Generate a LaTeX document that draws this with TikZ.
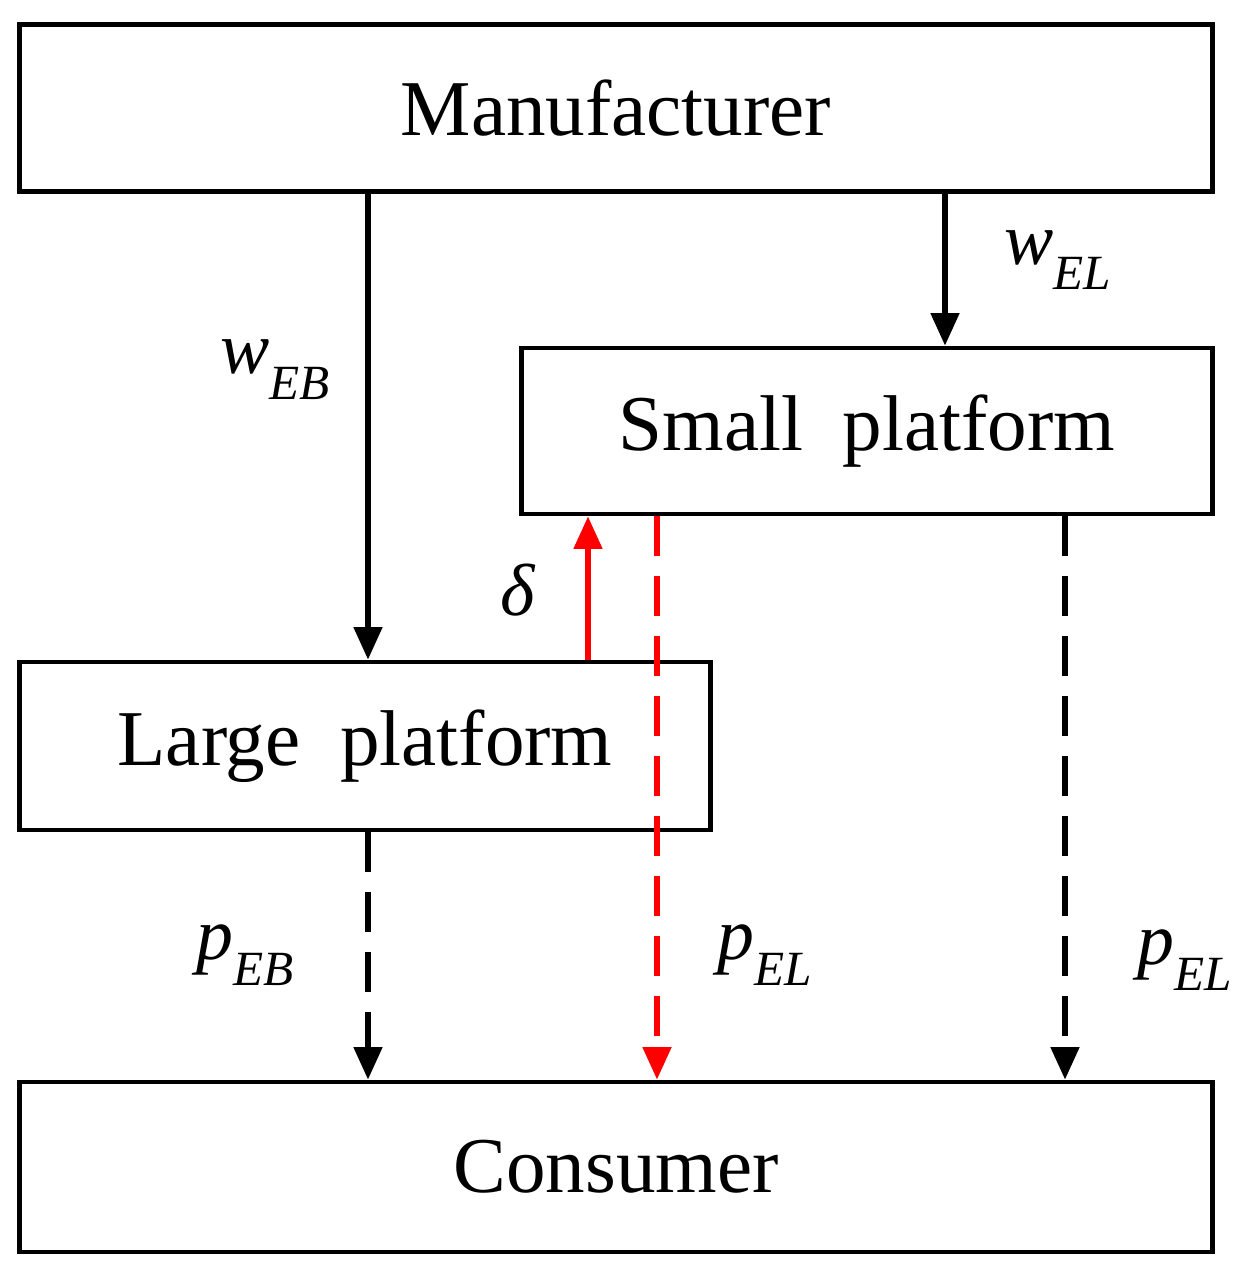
\documentclass[tikz,border=0pt]{standalone}
\usepackage{fontspec}
\setmainfont{Liberation Serif}
\usetikzlibrary{arrows.meta}
\newcommand{\lbl}[2]{\textit{#1}\raisebox{-0.35em}{\fontsize{28}{28}\selectfont\textit{#2}}}
\begin{document}
\begin{tikzpicture}[line width=2.6pt,
	box/.style={draw, rectangle, inner sep=0pt, font=\fontsize{45}{45}\selectfont},
	flow/.style={line width=3.4pt, -{Triangle[length=0.65cm,width=0.55cm]}},
	dashed flow/.style={flow, dash pattern=on 0.8cm off 0.4cm},
	lab/.style={font=\fontsize{42}{42}\selectfont}]
	\useasboundingbox (0,0) rectangle (25.1,-25.28);
	\node[box, minimum width=23.86cm, minimum height=3.34cm] (manufacturer) at (12.32,-2.16) {Manufacturer};
	\node[box, minimum width=13.82cm, minimum height=3.32cm] (small) at (17.34,-8.62) {Small~ platform};
	\node[box, minimum width=13.82cm, minimum height=3.36cm] (large) at (7.30,-14.92) {Large~ platform};
	\node[box, minimum width=23.86cm, minimum height=3.4cm] (consumer) at (12.32,-23.34) {Consumer};

	\draw[flow] (manufacturer.south -| 7.36,0) -- (large.north -| 7.36,0);
	\draw[flow] (manufacturer.south -| 18.9,0) -- (small.north -| 18.9,0);
	\draw[flow, red] (large.north -| 11.76,0) -- (small.south -| 11.76,0);
	\draw[dashed flow, red] (small.south -| 13.14,0) -- (consumer.north -| 13.14,0);
	\draw[dashed flow] (large.south -| 7.36,0) -- (consumer.north -| 7.36,0);
	\draw[dashed flow] (small.south -| 21.3,0) -- (consumer.north -| 21.3,0);

	\node[lab] (w-eb) at (5.5,-7.4) {\lbl{w}{EB}};
	\node[lab] (w-el) at (21.15,-5.2) {\lbl{w}{EL}};
	\node[lab] (delta) at (10.36,-11.8) {\textit{δ}};
	\node[lab] (p-eb) at (4.9,-19.1) {\lbl{p}{EB}};
	\node[lab] (p-el) at (15.3,-19.1) {\lbl{p}{EL}};
	\node[lab] (p-el2) at (23.7,-19.2) {\lbl{p}{EL}};
\end{tikzpicture}
\end{document}
